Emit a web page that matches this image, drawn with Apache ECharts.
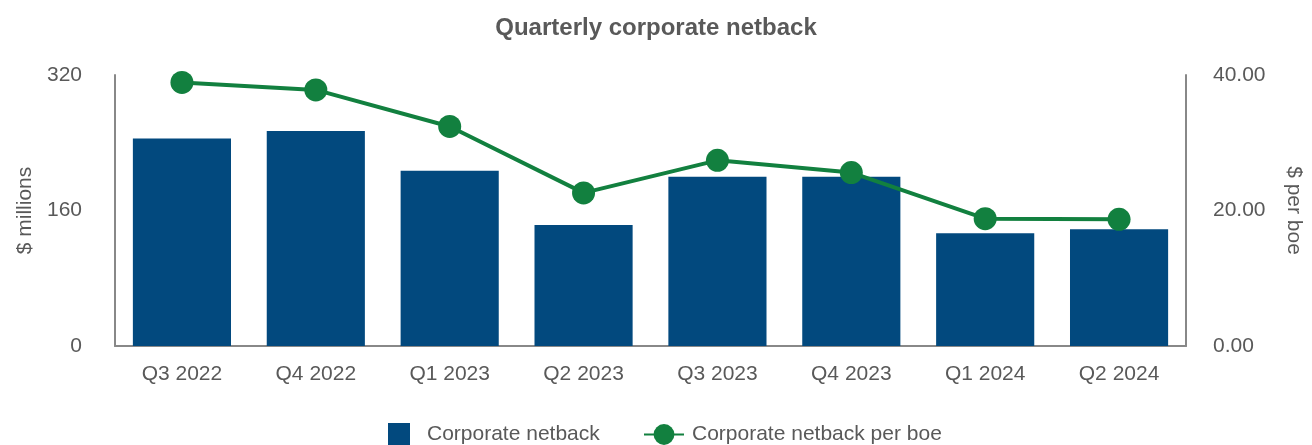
<!DOCTYPE html>
<html><head><meta charset="utf-8">
<script src="https://cdn.jsdelivr.net/npm/echarts@6/dist/echarts.min.js"></script>
<style>html,body{margin:0;padding:0;background:#fff}#c{width:1312px;height:445px}</style>
</head><body><div id="c"></div>
<script>
const categories = ['Q3 2022','Q4 2022','Q1 2023','Q2 2023','Q3 2023','Q4 2023','Q1 2024','Q2 2024'];
const netback = [245, 254, 207, 143, 200, 200, 133, 138];
const netbackPerBoe = [38.9, 37.8, 32.4, 22.6, 27.4, 25.6, 18.8, 18.7];
const leftTicks = [0, 160, 320];
const rightTicks = [0, 20, 40];

const txt = '#595959';
const font = 'Liberation Sans, Arial, sans-serif';
const fs = 21;
const chart = echarts.init(document.getElementById('c'), null, {renderer:'canvas'});
chart.setOption({
  animation:false,
  title:{text:'Quarterly corporate netback',left:'center',top:11,textStyle:{color:txt,fontFamily:font,fontSize:24,fontWeight:'bold'}},
  grid:{left:115,right:122,top:75,bottom:99},
  legend:[
    {left:388,top:423,padding:0,itemWidth:22,itemHeight:22,data:[{name:'Corporate netback',icon:'rect'}],
      textStyle:{color:txt,fontFamily:font,fontSize:fs,padding:[5,0,0,12]}},
    {left:643,top:424,padding:0,itemWidth:40,itemHeight:26,data:['Corporate netback per boe'],
      textStyle:{color:txt,fontFamily:font,fontSize:fs,padding:[3,0,0,3]}}
  ],
  xAxis:{type:'category',data:categories,axisLine:{lineStyle:{color:'#888',width:2}},axisTick:{show:false},
    axisLabel:{color:txt,fontFamily:font,fontSize:fs,margin:18}},
  yAxis:[
    {type:'value',min:leftTicks[0],max:leftTicks[2],interval:160,name:'$ millions',nameLocation:'middle',nameGap:79,nameRotate:90,
      nameTextStyle:{color:txt,fontFamily:font,fontSize:fs},
      axisLine:{show:true,lineStyle:{color:'#888',width:2}},axisTick:{show:false},splitLine:{show:false},
      axisLabel:{color:txt,fontFamily:font,fontSize:fs,margin:33}},
    {type:'value',min:rightTicks[0],max:rightTicks[2],interval:20,name:'$ per boe',nameLocation:'middle',nameGap:97,nameRotate:-90,
      nameTextStyle:{color:txt,fontFamily:font,fontSize:fs},
      axisLine:{show:true,lineStyle:{color:'#888',width:2}},axisTick:{show:false},splitLine:{show:false},
      axisLabel:{color:txt,fontFamily:font,fontSize:fs,margin:27,formatter:v=>v.toFixed(2)}}
  ],
  series:[
    {name:'Corporate netback',type:'bar',data:netback,barCategoryGap:'26.7%',itemStyle:{color:'#02497e'},yAxisIndex:0},
    {name:'Corporate netback per boe',type:'line',data:netbackPerBoe,yAxisIndex:1,symbol:'circle',symbolSize:23,
      lineStyle:{color:'#12803f',width:4},itemStyle:{color:'#12803f'}}
  ]
});
</script></body></html>
